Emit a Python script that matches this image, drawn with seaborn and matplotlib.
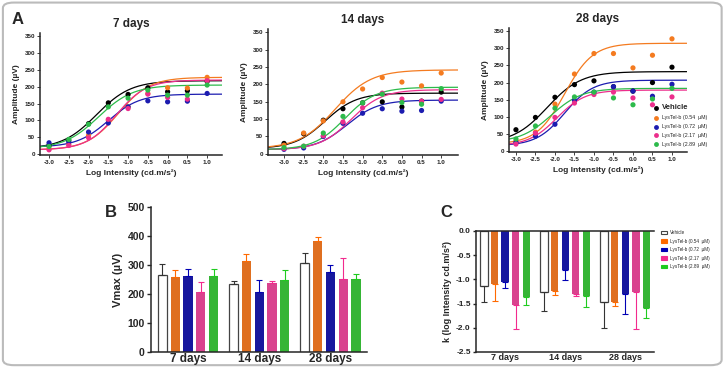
import numpy as np
import pandas as pd
import matplotlib.pyplot as plt
import seaborn as sns
from matplotlib.patches import FancyBboxPatch, Patch
from matplotlib.lines import Line2D

# groups and colours
groups = ["Vehicle", "LysTel-b (0.54  µM)", "LysTel-b (0.72  µM)",
          "LysTel-b (2.17  µM)", "LysTel-b (2.89  µM)"]
dot_colors = ["black", "#F47B20", "#1C1CB0", "#EC2E8C", "#2DBA4B"]
bar_colors = ["white", "#FF6A00", "#0000B4", "#F22A8E", "#1FCB1F"]
days = ["7 days", "14 days", "28 days"]

# panel A: mean amplitudes at each flash intensity
log_int = [-3.0, -2.5, -2.0, -1.5, -1.0, -0.5, 0.0, 0.5, 1.0]
amp_7d = [
    [25, 40, 90, 152, 177, 197, 185, 188, 216],
    [15, 28, 55, 100, 140, 180, 197, 196, 228],
    [33, 35, 65, 92, 140, 158, 155, 157, 180],
    [12, 25, 48, 103, 135, 178, 168, 163, 218],
    [22, 43, 88, 140, 166, 190, 175, 175, 205],
]
amp_14d = [
    [30, 58, 97, 130, 147, 150, 135, 152, 178],
    [25, 60, 95, 150, 187, 220, 207, 196, 233],
    [13, 17, 50, 88, 117, 130, 123, 125, 152],
    [15, 22, 52, 92, 133, 175, 158, 152, 157],
    [18, 22, 60, 108, 147, 172, 148, 143, 188],
]
amp_28d = [
    [62, 98, 157, 194, 205, 188, 175, 200, 245],
    [28, 55, 137, 225, 285, 285, 243, 280, 328],
    [25, 43, 78, 148, 172, 188, 175, 160, 195],
    [20, 52, 98, 140, 165, 172, 155, 135, 158],
    [35, 73, 125, 158, 172, 155, 135, 152, 183],
]

# fitted sigmoid curves (base, top, log k, slope) per group
fit_base = [[15, 12, 20, 12, 15], [15, 15, 12, 12, 12], [22, 20, 15, 15, 25]]
fit_top = [[218, 228, 178, 220, 205], [175, 242, 155, 185, 192], [232, 315, 207, 178, 183]]
fit_k = [[-1.8, -1.25, -1.5, -1.3, -1.75], [-1.95, -1.7, -1.4, -1.3, -1.45], [-2.2, -1.75, -1.75, -1.95, -2.1]]
fit_n = [[1.0, 1.1, 1.1, 1.15, 1.0], [1.1, 0.95, 1.1, 1.1, 1.1], [1.0, 1.2, 1.2, 1.2, 1.1]]

# panel B: Vmax
vmax_mean = [[265, 260, 262, 207, 262], [235, 313, 208, 238, 247], [307, 381, 277, 253, 253]]
vmax_err = [[38, 22, 23, 33, 23], [10, 25, 39, 6, 35], [33, 17, 23, 70, 15]]

# panel C: k
k_mean = [[-1.13, -1.10, -1.05, -1.53, -1.37], [-1.27, -1.25, -0.80, -1.30, -1.35],
          [-1.47, -1.47, -1.30, -1.27, -1.60]]
k_err = [[0.33, 0.35, 0.13, 0.49, 0.17], [0.38, 0.08, 0.22, 0.05, 0.22],
         [0.54, 0.08, 0.42, 0.75, 0.20]]

sns.set_style("ticks")
plt.rcParams['font.family'] = ['Liberation Sans', 'DejaVu Sans']
plt.rcParams['font.weight'] = 'bold'
plt.rcParams['axes.linewidth'] = 1.1

fig = plt.figure(figsize=(7.26, 3.67), dpi=100)
fig.patches.append(FancyBboxPatch((0.004, 0.005), 0.99, 0.988,
                                  boxstyle="round,pad=0,rounding_size=0.015",
                                  transform=fig.transFigure, fc="white",
                                  ec="#BBBBBB", lw=1.5, zorder=-10))

a_pos = [[0.055, 0.578, 0.251, 0.332], [0.369, 0.578, 0.262, 0.343], [0.701, 0.586, 0.245, 0.338]]
a_xlim = [(-3.23, 1.38), (-3.41, 1.43), (-3.18, 1.38)]
amps = [amp_7d, amp_14d, amp_28d]

for d in range(3):
    ax = fig.add_axes(a_pos[d])
    xs = np.linspace(a_xlim[d][0], a_xlim[d][1], 200)
    rows = []
    pts = []
    for g in range(5):
        b, t, k, n = fit_base[d][g], fit_top[d][g], fit_k[d][g], fit_n[d][g]
        for x in xs:
            rows.append((groups[g], x, b + (t - b) / (1 + 10 ** (n * (k - x)))))
        for x, y in zip(log_int, amps[d][g]):
            pts.append((groups[g], x, y))
    curves = pd.DataFrame(rows, columns=["group", "x", "y"])
    dots = pd.DataFrame(pts, columns=["group", "x", "y"])
    sns.lineplot(data=curves, x="x", y="y", hue="group", hue_order=groups,
                 palette=dot_colors, lw=0.9, legend=False, ax=ax, sort=False)
    sns.scatterplot(data=dots, x="x", y="y", hue="group", hue_order=groups,
                    palette=dot_colors, s=14, linewidth=0, legend=False, ax=ax, zorder=3)
    ax.set_xlim(*a_xlim[d])
    ax.set_ylim(-3, 360)
    ax.set_yticks(range(0, 351, 50))
    ax.set_xticks(log_int)
    ax.set_xticklabels([f"{v:.1f}" for v in log_int])
    ax.tick_params(labelsize=4.5, length=2, width=0.6, pad=1.5, colors="#222")
    ax.set_xlabel("Log Intensity (cd.m/s²)", fontsize=6, fontweight="bold", labelpad=3)
    ax.set_ylabel("Amplitude (µV)", fontsize=6, fontweight="bold", labelpad=3)
    ax.set_title(days[d], fontsize=8.5, fontweight="bold", pad=4)
    sns.despine(ax=ax)
    if d == 2:
        handles = [Line2D([], [], ls="", marker="o", ms=3.5, mec="none", mfc=c) for c in dot_colors]
        leg = ax.legend(handles, groups, loc="upper left", bbox_to_anchor=(0.80, 0.40),
                        frameon=False, handletextpad=0.6, labelspacing=0.75,
                        handlelength=1.0, borderaxespad=0, prop={"weight": "normal", "size": 3.8})
        leg.get_texts()[0].set_fontsize(5.5)
        leg.get_texts()[0].set_fontweight("bold")

fig.text(0.016, 0.935, "A", fontsize=12, fontweight="bold")


def bar_panel(ax, means, errs, xlim, width, gap, up):
    rows = []
    for d in range(3):
        for g in range(5):
            rows.append((days[d], groups[g], means[d][g]))
    df = pd.DataFrame(rows, columns=["day", "group", "val"])
    sns.barplot(data=df, x="day", y="val", hue="group", hue_order=groups,
                palette=bar_colors, width=width, gap=gap, linewidth=0,
                errorbar=None, legend=False, ax=ax)
    conts = list(ax.containers)[:5]
    for g, cont in enumerate(conts):
        ecol = "#333333" if g == 0 else bar_colors[g]
        for d, bar in enumerate(cont):
            if g == 0:
                bar.set_edgecolor("#444444")
                bar.set_linewidth(0.9)
            xc = bar.get_x() + bar.get_width() / 2
            e = errs[d][g]
            yerr = [[0], [e]] if up else [[e], [0]]
            ax.errorbar(xc, means[d][g], yerr=yerr, color=ecol, capsize=2,
                        capthick=0.8, elinewidth=0.8, zorder=1)
    ax.set_xlim(*xlim)
    ax.set_xlabel("")


# panel B
axb = fig.add_axes([0.208, 0.041, 0.298, 0.395])
bar_panel(axb, vmax_mean, vmax_err, (-0.52, 2.52), 0.9, 0.29, True)
axb.set_ylim(0, 500)
axb.set_yticks(range(0, 501, 100))
axb.tick_params(axis="y", labelsize=7.5, length=3, width=1, pad=1.5)
axb.tick_params(axis="x", labelsize=8.5, length=0, pad=1)
axb.set_ylabel("Vmax (µV)", fontsize=8, fontweight="bold", labelpad=3)
sns.despine(ax=axb)
fig.text(0.145, 0.41, "B", fontsize=12, fontweight="bold")

# panel C
axc = fig.add_axes([0.656, 0.041, 0.245, 0.33])
bar_panel(axc, k_mean, k_err, (-0.48, 2.48), 0.88, 0.31, False)
axc.set_ylim(-2.5, 0)
axc.set_yticks([0.0, -0.5, -1.0, -1.5, -2.0, -2.5])
axc.set_yticklabels(["0.0", "-0.5", "-1.0", "-1.5", "-2.0", "-2.5"])
axc.tick_params(axis="y", labelsize=6, length=2.5, width=1, pad=1.5)
axc.tick_params(axis="x", labelsize=6.5, length=0, pad=1)
axc.set_ylabel("k (log Intensity cd.m/s²)", fontsize=6.5, fontweight="bold", labelpad=3)
axc.spines["right"].set_visible(False)
chand = [Patch(fc=c, ec=("#444444" if i == 0 else c), lw=0.8) for i, c in enumerate(bar_colors)]
legc = axc.legend(chand, groups, loc="upper left", bbox_to_anchor=(1.03, 1.02), frameon=False,
                  handlelength=1.3, handleheight=0.8, handletextpad=0.5, labelspacing=0.75,
                  borderaxespad=0, prop={"weight": "normal", "size": 3.3})
fig.text(0.607, 0.41, "C", fontsize=12, fontweight="bold")

fig.savefig("out.png", dpi=100)
